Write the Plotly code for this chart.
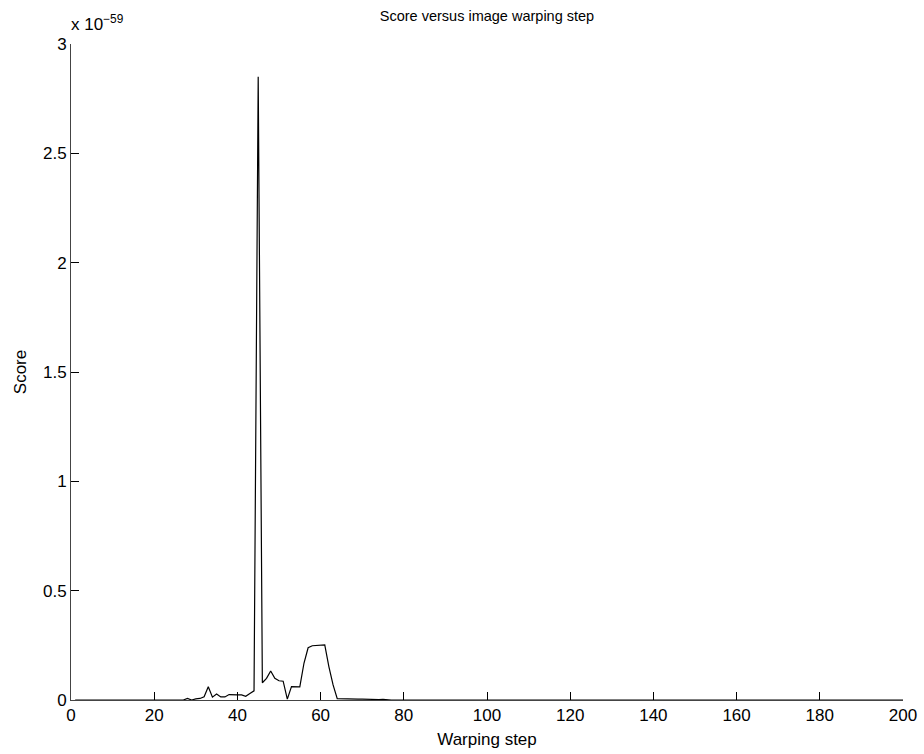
import plotly.graph_objects as go

# Score values in units of 1e-59, per warping step
steps = list(range(1, 201))
known = {
    27: 0.0, 28: 0.007, 29: 0.0, 30: 0.005, 31: 0.007, 32: 0.015, 33: 0.061,
    34: 0.013, 35: 0.027, 36: 0.014, 37: 0.014, 38: 0.025, 39: 0.023,
    40: 0.023, 41: 0.023, 42: 0.017, 43: 0.03, 44: 0.042, 45: 2.85,
    46: 0.079, 47: 0.099, 48: 0.133, 49: 0.099, 50: 0.088, 51: 0.086,
    52: 0.004, 53: 0.061, 54: 0.06, 55: 0.06, 56: 0.168, 57: 0.239,
    58: 0.248, 59: 0.25, 60: 0.25, 61: 0.252, 62: 0.152, 63: 0.069,
    64: 0.006, 65: 0.005, 66: 0.005, 67: 0.005, 68: 0.004, 69: 0.004,
    70: 0.004, 71: 0.003, 72: 0.003, 73: 0.002, 74: 0.002, 75: 0.003,
    76: 0.0,
}
scores = [known.get(s, 0.0) for s in steps]

x_ticks = [0, 20, 40, 60, 80, 100, 120, 140, 160, 180, 200]
y_ticks = [0, 0.5, 1, 1.5, 2, 2.5, 3]
y_tick_labels = ["0", "0.5", "1", "1.5", "2", "2.5", "3"]

font = "Liberation Sans, Arial, Helvetica, sans-serif"

fig = go.Figure()
fig.add_trace(go.Scatter(x=steps, y=scores, mode="lines",
                         line=dict(color="black", width=1.2), showlegend=False))

fig.update_layout(
    width=924, height=754,
    autosize=False,
    margin=dict(l=71, r=21, t=44, b=54, autoexpand=False),
    paper_bgcolor="white", plot_bgcolor="white",
    font=dict(family=font, size=17, color="black"),
    title=dict(text="Score versus image warping step", x=0.5, xref="paper",
               y=1 - 16 / 754, yanchor="middle", font=dict(size=14.5)),
    xaxis=dict(range=[0, 200], tickvals=x_ticks, ticks="inside", ticklen=8,
               tickcolor="black", showline=True, linecolor="#444", linewidth=1,
               showgrid=False, zeroline=False, tickfont=dict(size=17),
               automargin=False,
               title=dict(text="Warping step", standoff=8, font=dict(size=17))),
    yaxis=dict(range=[0, 3], tickvals=y_ticks, ticktext=y_tick_labels,
               ticks="inside", ticklen=8, tickcolor="black", showline=True,
               linecolor="#444", linewidth=1, showgrid=False, zeroline=False,
               tickfont=dict(size=17), automargin=False,
               title=dict(text="Score", standoff=12, font=dict(size=17))),
    annotations=[dict(text="x 10<sup>−59</sup>", xref="paper", yref="paper",
                      x=0, y=1, xanchor="left", yanchor="bottom",
                      xshift=-2, yshift=8, showarrow=False,
                      font=dict(size=17, family=font))],
)

fig.write_html("out.html", config={"displayModeBar": False},
               post_script="document.body.style.margin='0';")
